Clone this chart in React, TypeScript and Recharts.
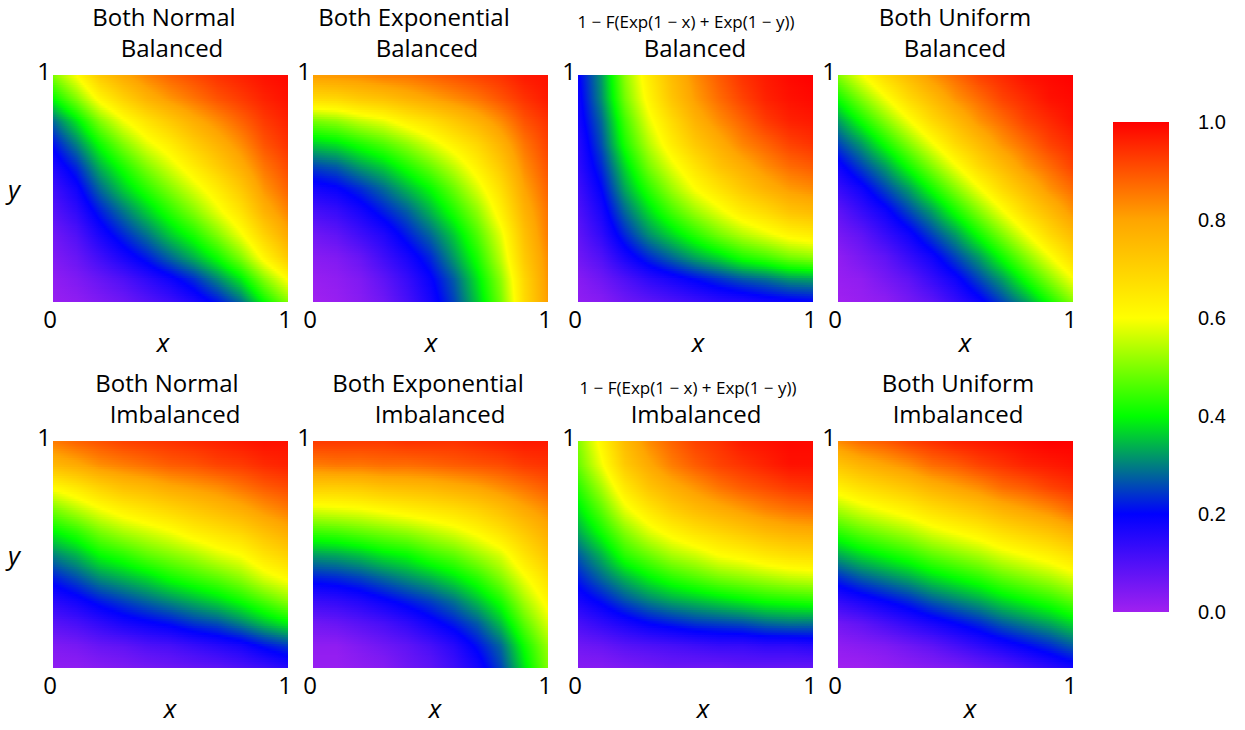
import { Bar, ComposedChart, ReferenceArea, XAxis, YAxis } from 'recharts'

// sample positions (same for x and y), values below are in % of the colour scale
const GRID_POS = [0, 0.1, 0.2, 0.3, 0.4, 0.5, 0.6, 0.7, 0.8, 0.9, 1]

const SCALE_TICKS = [0, 0.2, 0.4, 0.6, 0.8, 1]
const SCALE_COLORS = ['#a020f0', '#0000ff', '#00ff00', '#ffff00', '#ffa500', '#ff0000']
const COLORBAR = [{ name: 'scale', top: 1 }]

// rows go from y = 0 (bottom) to y = 1 (top), columns from x = 0 to x = 1
const NORMAL_BAL = [
  [1, 2, 4, 6, 9, 12, 16, 21, 28, 40, 50],
  [2, 4, 7, 10, 14, 18, 23, 30, 38, 50, 60],
  [4, 7, 12, 17, 22, 28, 34, 41, 50, 62, 72],
  [6, 10, 17, 23, 29, 36, 42, 50, 59, 70, 79],
  [9, 14, 22, 29, 36, 43, 50, 58, 66, 77, 84],
  [12, 18, 28, 36, 43, 50, 57, 64, 72, 82, 88],
  [16, 23, 34, 42, 50, 57, 64, 71, 78, 86, 91],
  [21, 30, 41, 50, 58, 64, 71, 77, 83, 90, 94],
  [28, 38, 50, 59, 66, 72, 78, 83, 88, 93, 96],
  [40, 50, 62, 70, 77, 82, 86, 90, 93, 96, 98],
  [50, 60, 72, 79, 84, 88, 91, 94, 96, 98, 99],
]

const EXPO_BAL = [
  [0, 1, 3, 6, 11, 17, 25, 36, 49, 68, 81],
  [1, 2, 4, 8, 13, 19, 27, 38, 51, 69, 82],
  [3, 4, 7, 12, 17, 23, 32, 42, 55, 72, 83],
  [6, 8, 12, 16, 22, 28, 36, 46, 58, 74, 85],
  [11, 13, 17, 22, 27, 34, 42, 51, 63, 77, 86],
  [17, 19, 23, 28, 34, 40, 48, 57, 67, 80, 88],
  [25, 27, 32, 36, 42, 48, 55, 63, 72, 83, 90],
  [36, 38, 42, 46, 51, 57, 63, 69, 77, 86, 92],
  [49, 51, 55, 58, 63, 67, 72, 77, 83, 90, 94],
  [68, 69, 72, 74, 77, 80, 83, 86, 90, 94, 97],
  [81, 82, 83, 85, 86, 88, 90, 92, 94, 97, 98],
]

const FLIP_BAL = [
  [2, 3, 6, 8, 10, 12, 14, 15, 17, 18, 19],
  [3, 6, 10, 14, 17, 20, 23, 26, 28, 31, 32],
  [6, 10, 17, 23, 28, 33, 37, 42, 45, 49, 51],
  [8, 14, 23, 31, 37, 43, 49, 54, 58, 62, 64],
  [10, 17, 28, 37, 45, 52, 58, 64, 68, 73, 75],
  [12, 20, 33, 43, 52, 60, 66, 72, 77, 81, 83],
  [14, 23, 37, 49, 58, 66, 73, 78, 83, 87, 89],
  [15, 26, 42, 54, 64, 72, 78, 84, 88, 92, 94],
  [17, 28, 45, 58, 68, 77, 83, 88, 93, 96, 97],
  [18, 31, 49, 62, 73, 81, 87, 92, 96, 98, 99],
  [19, 32, 51, 64, 75, 83, 89, 94, 97, 99, 100],
]

const UNIFORM_BAL = [
  [0, 1, 2, 5, 8, 13, 18, 25, 32, 41, 50],
  [1, 2, 5, 8, 13, 18, 25, 32, 41, 50, 59],
  [2, 5, 8, 13, 18, 25, 32, 41, 50, 59, 68],
  [5, 8, 13, 18, 25, 32, 41, 50, 59, 68, 75],
  [8, 13, 18, 25, 32, 41, 50, 59, 68, 75, 82],
  [13, 18, 25, 32, 41, 50, 59, 68, 75, 82, 87],
  [18, 25, 32, 41, 50, 59, 68, 75, 82, 87, 92],
  [25, 32, 41, 50, 59, 68, 75, 82, 87, 92, 95],
  [32, 41, 50, 59, 68, 75, 82, 87, 92, 95, 98],
  [41, 50, 59, 68, 75, 82, 87, 92, 95, 98, 99],
  [50, 59, 68, 75, 82, 87, 92, 95, 98, 99, 100],
]

const NORMAL_IMB = [
  [2, 2, 3, 4, 5, 6, 7, 8, 10, 12, 15],
  [4, 5, 7, 8, 10, 11, 13, 15, 17, 21, 24],
  [9, 11, 14, 17, 19, 21, 24, 26, 30, 35, 39],
  [15, 18, 22, 25, 28, 31, 34, 37, 41, 46, 51],
  [22, 26, 31, 34, 37, 41, 44, 47, 51, 57, 61],
  [30, 34, 40, 43, 47, 50, 53, 57, 60, 66, 70],
  [39, 43, 49, 53, 56, 59, 63, 66, 69, 74, 78],
  [49, 54, 59, 63, 66, 69, 72, 75, 78, 82, 85],
  [61, 65, 70, 74, 76, 79, 81, 83, 86, 89, 91],
  [76, 79, 83, 85, 87, 89, 90, 92, 93, 95, 96],
  [85, 88, 90, 92, 93, 94, 95, 96, 97, 98, 98],
]

const EXPO_IMB = [
  [1, 1, 2, 3, 6, 8, 12, 17, 25, 38, 50],
  [2, 2, 4, 6, 8, 11, 15, 21, 28, 41, 52],
  [6, 7, 9, 11, 14, 18, 22, 27, 35, 47, 57],
  [13, 14, 16, 19, 22, 25, 29, 35, 42, 53, 62],
  [22, 23, 25, 28, 31, 34, 38, 43, 50, 59, 67],
  [32, 33, 35, 38, 40, 44, 47, 52, 57, 66, 73],
  [44, 45, 47, 49, 51, 54, 57, 61, 66, 72, 78],
  [57, 58, 59, 61, 63, 65, 67, 70, 74, 79, 83],
  [71, 71, 72, 74, 75, 76, 78, 80, 83, 86, 89],
  [85, 86, 86, 87, 87, 88, 89, 90, 91, 93, 94],
  [93, 93, 93, 93, 94, 94, 94, 95, 96, 97, 97],
]

const FLIP_IMB = [
  [3, 3, 4, 5, 6, 6, 6, 7, 7, 7, 7],
  [6, 7, 9, 10, 11, 12, 13, 13, 14, 14, 15],
  [11, 14, 17, 20, 22, 24, 25, 26, 28, 29, 29],
  [17, 21, 26, 30, 33, 35, 37, 39, 41, 42, 43],
  [22, 28, 34, 39, 43, 46, 49, 51, 53, 55, 56],
  [27, 34, 43, 48, 53, 56, 60, 62, 65, 67, 68],
  [33, 41, 50, 57, 62, 66, 69, 72, 75, 77, 78],
  [38, 47, 58, 65, 71, 75, 78, 81, 84, 86, 87],
  [43, 53, 65, 73, 78, 82, 86, 89, 91, 93, 94],
  [48, 59, 72, 79, 85, 89, 92, 94, 96, 98, 98],
  [50, 62, 75, 83, 88, 92, 94, 97, 98, 99, 99],
]

const UNIFORM_IMB = [
  [0, 0, 1, 2, 3, 4, 6, 8, 11, 14, 17],
  [2, 3, 4, 6, 8, 11, 14, 17, 20, 23, 27],
  [6, 8, 11, 14, 17, 20, 23, 27, 30, 33, 37],
  [14, 17, 20, 23, 27, 30, 33, 37, 40, 43, 47],
  [23, 27, 30, 33, 37, 40, 43, 47, 50, 53, 57],
  [33, 37, 40, 43, 47, 50, 53, 57, 60, 63, 67],
  [43, 47, 50, 53, 57, 60, 63, 67, 70, 73, 77],
  [53, 57, 60, 63, 67, 70, 73, 77, 80, 83, 87],
  [63, 67, 70, 73, 77, 80, 83, 87, 89, 92, 94],
  [73, 77, 80, 83, 87, 89, 92, 94, 96, 97, 98],
  [83, 87, 89, 92, 94, 96, 97, 98, 99, 100, 100],
]

const FORMULA = '1 \u2212 F(Exp(1 \u2212 x) + Exp(1 \u2212 y))'

const PANELS = [
  { id: 'nb', grid: NORMAL_BAL, left: 53, top: 75, lines: ['Both Normal', 'Balanced'], lineX: [164, 172], xLab: 163, yLab: true, small: false },
  { id: 'eb', grid: EXPO_BAL, left: 313, top: 75, lines: ['Both Exponential', 'Balanced'], lineX: [414, 427], xLab: 431, yLab: false, small: false },
  { id: 'fb', grid: FLIP_BAL, left: 578, top: 75, lines: [FORMULA, 'Balanced'], lineX: [686, 695], xLab: 698, yLab: false, small: true },
  { id: 'ub', grid: UNIFORM_BAL, left: 838, top: 75, lines: ['Both Uniform', 'Balanced'], lineX: [955, 955], xLab: 965, yLab: false, small: false },
  { id: 'ni', grid: NORMAL_IMB, left: 53, top: 441, lines: ['Both Normal', 'Imbalanced'], lineX: [167, 175], xLab: 170, yLab: true, small: false },
  { id: 'ei', grid: EXPO_IMB, left: 313, top: 441, lines: ['Both Exponential', 'Imbalanced'], lineX: [428, 440], xLab: 435, yLab: false, small: false },
  { id: 'fi', grid: FLIP_IMB, left: 578, top: 441, lines: [FORMULA, 'Imbalanced'], lineX: [688, 696], xLab: 703, yLab: false, small: true },
  { id: 'ui', grid: UNIFORM_IMB, left: 838, top: 441, lines: ['Both Uniform', 'Imbalanced'], lineX: [958, 958], xLab: 970, yLab: false, small: false },
]

const FONT = '"Open Sans", "Liberation Sans", sans-serif'
const PLOT_W = 235
const PLOT_H = 227
const AXIS_W = 50
const AXIS_H = 60
const PAD_TOP = 30
const PAD_RIGHT = 15
const SUB = 10 // shading strips per sample row

const SCALE_RGB = SCALE_COLORS.map((h) => [1, 3, 5].map((k) => parseInt(h.slice(k, k + 2), 16)))

function colorAt(v: number) {
  const t = Math.min(1, Math.max(0, v))
  let k = 0
  while (k < SCALE_TICKS.length - 2 && t > SCALE_TICKS[k + 1]) k++
  const f = (t - SCALE_TICKS[k]) / (SCALE_TICKS[k + 1] - SCALE_TICKS[k])
  const a = SCALE_RGB[k]
  const b = SCALE_RGB[k + 1]
  return `rgb(${a.map((c, n) => Math.round(c + (b[n] - c) * f)).join(',')})`
}

// gradient stops along x; extra stops where the colour scale bends
function rowStops(row: number[]) {
  const stops: { offset: number; color: string }[] = []
  row.forEach((pct, i) => {
    const v = pct / 100
    if (i > 0) {
      const u = row[i - 1] / 100
      const x0 = GRID_POS[i - 1]
      const x1 = GRID_POS[i]
      const cross = SCALE_TICKS.slice(1, -1)
        .filter((b) => (u - b) * (v - b) < 0)
        .map((b) => ({ offset: x0 + ((b - u) / (v - u)) * (x1 - x0), color: colorAt(b) }))
        .sort((a, b) => a.offset - b.offset)
      stops.push(...cross)
    }
    stops.push({ offset: GRID_POS[i], color: colorAt(v) })
  })
  return stops
}

function HeatPanel({ panel }: { panel: (typeof PANELS)[number] }) {
  const { id, grid, left, top } = panel
  const strips: { key: string; y0: number; y1: number; shade: number[]; first: boolean }[] = []
  for (let j = 0; j < GRID_POS.length - 1; j++) {
    const lo = GRID_POS[j]
    const hi = GRID_POS[j + 1]
    for (let s = 0; s < SUB; s++) {
      const t = (s + 0.5) / SUB
      strips.push({
        key: `${j}-${s}`,
        y0: lo + ((hi - lo) * s) / SUB,
        y1: lo + ((hi - lo) * (s + 1)) / SUB,
        shade: grid[j].map((v, i) => v + (grid[j + 1][i] - v) * t),
        first: j === 0 && s === 0,
      })
    }
  }
  return (
    <div style={{ position: 'absolute', left: left - AXIS_W, top: top - PAD_TOP }}>
      <ComposedChart
        width={AXIS_W + PLOT_W + PAD_RIGHT}
        height={PAD_TOP + PLOT_H + AXIS_H}
        margin={{ top: PAD_TOP, right: PAD_RIGHT, bottom: 0, left: 0 }}
      >
        <defs>
          {strips.map((st) => (
            <linearGradient key={st.key} id={`${id}-s${st.key}`} x1="0" y1="0" x2="1" y2="0">
              {rowStops(st.shade).map((s, k) => (
                <stop key={k} offset={s.offset} stopColor={s.color} />
              ))}
            </linearGradient>
          ))}
        </defs>
        <XAxis
          type="number"
          dataKey="x"
          domain={[0, 1]}
          ticks={[0, 1]}
          interval={0}
          allowDataOverflow
          axisLine={false}
          tickLine={false}
          tickSize={0}
          tickMargin={0}
          height={AXIS_H}
          tick={(p: any) => (
            <text x={p.x - 3} y={p.y + 26} textAnchor="middle" fontSize={24} fontFamily={FONT} fill="#000">
              {p.payload.value}
            </text>
          )}
        />
        <YAxis
          type="number"
          domain={[0, 1]}
          ticks={[1]}
          interval={0}
          allowDataOverflow
          axisLine={false}
          tickLine={false}
          tickSize={0}
          tickMargin={0}
          width={AXIS_W}
          tick={(p: any) => (
            <text x={p.x - 9} y={p.y + 5} textAnchor="middle" fontSize={24} fontFamily={FONT} fill="#000">
              {p.payload.value}
            </text>
          )}
        />
        {strips.map((st) => (
          <ReferenceArea
            key={st.key}
            x1={0}
            x2={1}
            y1={st.y0}
            y2={st.y1}
            ifOverflow="visible"
            shape={(p: any) => (
              <rect
                x={p.x}
                y={p.y}
                width={p.width}
                height={p.height + (st.first ? 0 : 1)}
                fill={`url(#${id}-s${st.key})`}
              />
            )}
          />
        ))}
      </ComposedChart>
    </div>
  )
}

function ColorBar() {
  return (
    <div style={{ position: 'absolute', left: 1113, top: 102 }}>
      <ComposedChart
        width={56 + 80}
        height={20 + 490 + 20}
        data={COLORBAR}
        margin={{ top: 20, right: 0, bottom: 20, left: 0 }}
        barCategoryGap={0}
      >
        <defs>
          <linearGradient id="cbar" x1="0" y1="1" x2="0" y2="0">
            {SCALE_TICKS.map((t, k) => (
              <stop key={k} offset={t} stopColor={SCALE_COLORS[k]} />
            ))}
          </linearGradient>
        </defs>
        <XAxis dataKey="name" type="category" hide />
        <YAxis
          orientation="right"
          type="number"
          domain={[0, 1]}
          ticks={SCALE_TICKS}
          interval={0}
          allowDataOverflow
          width={80}
          axisLine={false}
          tickLine={false}
          tickSize={0}
          tickMargin={29}
          tickFormatter={(v: number) => v.toFixed(1)}
          tick={{ fontSize: 20, fill: '#000', fontFamily: '"Liberation Sans", Arial, sans-serif' }}
        />
        <Bar dataKey="top" fill="url(#cbar)" isAnimationActive={false} />
      </ComposedChart>
    </div>
  )
}

function Labels() {
  return (
    <svg width={1245} height={730} style={{ position: 'absolute', left: 0, top: 0, pointerEvents: 'none' }}>
      {PANELS.map((p) => {
        const dy = p.top - 75
        return (
          <g key={p.id} fontFamily={FONT} fill="#000" textAnchor="middle">
            {p.small ? (
              <text x={p.lineX[0]} y={28 + dy} fontSize={17}>
                {p.lines[0]}
              </text>
            ) : (
              <text x={p.lineX[0]} y={26 + dy} fontSize={24}>
                {p.lines[0]}
              </text>
            )}
            <text x={p.lineX[1]} y={57 + dy} fontSize={24}>
              {p.lines[1]}
            </text>
            <text x={p.xLab} y={p.top + PLOT_H + 50} fontSize={26} fontStyle="italic">
              x
            </text>
            {p.yLab && (
              <text x={14} y={p.top + 124} fontSize={26} fontStyle="italic">
                y
              </text>
            )}
          </g>
        )
      })}
    </svg>
  )
}

export default function App() {
  return (
    <div style={{ position: 'absolute', left: 0, top: 0, width: 1245, height: 730, background: '#fff' }}>
      {PANELS.map((p) => (
        <HeatPanel key={p.id} panel={p} />
      ))}
      <ColorBar />
      <Labels />
    </div>
  )
}
